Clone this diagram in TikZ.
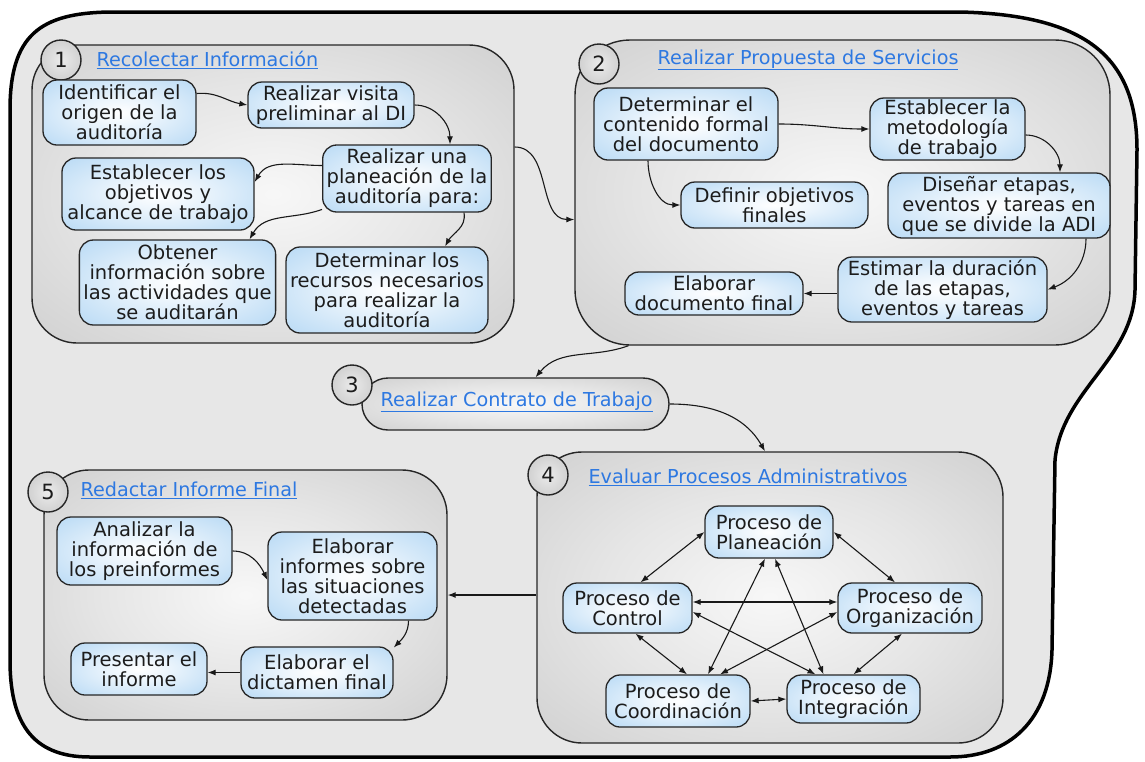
\documentclass[tikz,border=0pt]{standalone}
\usepackage{fontspec}
\setmainfont{DejaVu Sans}
\usetikzlibrary{arrows.meta,positioning}
\definecolor{azulnodo}{RGB}{166,208,242}
\definecolor{grisgrupo}{RGB}{192,192,192}
\definecolor{fondo}{RGB}{231,231,231}
\definecolor{enlace}{RGB}{45,120,225}
\definecolor{texto}{RGB}{28,28,28}
\pgfdeclareradialshading{nodoshade}{\pgfpoint{0bp}{0bp}}{color(0bp)=(white); color(10bp)=(azulnodo!20!white); color(45bp)=(azulnodo); color(100bp)=(azulnodo)}
\pgfdeclareradialshading{gruposhade}{\pgfpoint{0bp}{0bp}}{color(0bp)=(white!97!black); color(18bp)=(white!90!black); color(50bp)=(grisgrupo); color(100bp)=(grisgrupo)}
\pgfdeclareradialshading{numeroshade}{\pgfpoint{0bp}{0bp}}{color(0bp)=(white!92!black); color(50bp)=(white!72!black); color(100bp)=(white!72!black)}

\begin{document}
\begin{tikzpicture}[x=1pt,y=-1pt,>={Latex[length=8pt,width=6pt]},line join=round,
  font=\fontsize{19.5}{20}\selectfont,
  proceso/.style={draw=black!85,line width=1.3pt,rounded corners=14pt,shade,shading=nodoshade,align=center,inner xsep=4pt,inner ysep=1pt,text=texto},
  grupo/.style={draw=black!85,line width=1.4pt,rounded corners=45pt,shade,shading=gruposhade},
  numero/.style={circle,draw=black!85,line width=1.4pt,shade,shading=numeroshade,minimum size=40pt,inner sep=0pt,font=\fontsize{21}{21}\selectfont,text=texto},
  titulo/.style={anchor=west,text=enlace,font=\fontsize{19.2}{19.2}\selectfont},
  flecha/.style={->,line width=1.1pt,black!90}]
\useasboundingbox (0,0) rectangle (1145,761);
\draw[line width=3.5pt,fill=fondo] (10,110) .. controls (10,35) and (40,13) .. (110,12) -- (960,12) .. controls (1090,15) and (1137,60) .. (1137,150) -- (1135,290) .. controls (1133,360) and (1062,390) .. (1055,460) -- (1052,650) .. controls (1050,720) and (1010,757) .. (950,757) -- (90,757) .. controls (30,757) and (10,720) .. (10,660) -- cycle;

\node[grupo, minimum width=482, minimum height=298] (g_1) at (273,194) {};
\node[grupo, minimum width=535, minimum height=305, rounded corners=55pt] (g_2) at (842.5,192.5) {};
\node[grupo, minimum width=307, minimum height=52, rounded corners=26pt] (g_3) at (515.5,404) {};
\node[grupo, minimum width=466, minimum height=291] (g_4) at (770,597.5) {};
\node[grupo, minimum width=403, minimum height=250] (g_5) at (245.5,595) {};

\node[numero] (n_1) at (61,60) {1};
\node[numero] (n_2) at (599,64) {2};
\node[numero] (n_3) at (352,385) {3};
\node[numero] (n_4) at (548,475) {4};
\node[numero] (n_5) at (48,492) {5};
\node[titulo] (t_1) at (93,60) {\underline{Recolectar Información}};
\node[titulo] (t_2) at (654,60) {\underline{Realizar Propuesta de Servicios}};
\node[titulo] (t_3) at (377,402) {\underline{Realizar Contrato de Trabajo}};
\node[titulo] (t_4) at (585,477) {\underline{Evaluar Procesos Administrativos}};
\node[titulo] (t_5) at (77,490) {\underline{Redactar Informe Final}};

\node[proceso, minimum width=153, minimum height=65] (a_1) at (119.5,112.5) {Identificar el\\origen de la\\auditoría};
\node[proceso, minimum width=166, minimum height=46] (a_2) at (331,105) {Realizar visita\\preliminar al DI};
\node[proceso, minimum width=168, minimum height=67] (a_3) at (407,178.5) {Realizar una\\planeación de la\\auditoría para:};
\node[proceso, minimum width=192, minimum height=72] (a_4) at (158,194) {Establecer los\\objetivos y\\alcance de trabajo};
\node[proceso, minimum width=195, minimum height=85] (a_5) at (177.5,282.5) {Obtener\\información sobre\\las actividades que\\se auditarán};
\node[proceso, minimum width=200, minimum height=86] (a_6) at (387,290) {Determinar los\\recursos necesarios\\para realizar la\\auditoría};

\node[proceso, minimum width=184, minimum height=72] (b_1) at (686,124) {Determinar el\\contenido formal\\del documento};
\node[proceso, minimum width=155, minimum height=62] (b_2) at (947.5,129) {Establecer la\\metodología\\de trabajo};
\node[proceso, minimum width=187, minimum height=46] (b_3) at (774.5,205) {Definir objetivos\\finales};
\node[proceso, minimum width=222, minimum height=65] (b_4) at (999,205.5) {Diseñar etapas,\\eventos y tareas en\\que se divide la ADI};
\node[proceso, minimum width=209, minimum height=65] (b_5) at (942.5,289.5) {Estimar la duración\\de las etapas,\\eventos y tareas};
\node[proceso, minimum width=178, minimum height=43] (b_6) at (714,293.5) {Elaborar\\documento final};

\node[proceso, minimum width=128, minimum height=52] (p_1) at (769,532) {Proceso de\\Planeación};
\node[proceso, minimum width=129, minimum height=50] (p_2) at (627.5,608) {Proceso de\\Control};
\node[proceso, minimum width=144, minimum height=50] (p_3) at (910,608) {Proceso de\\Organización};
\node[proceso, minimum width=144, minimum height=52] (p_4) at (678,701) {Proceso de\\Coordinación};
\node[proceso, minimum width=133, minimum height=48] (p_5) at (853.5,699) {Proceso de\\Integración};

\node[proceso, minimum width=175, minimum height=68] (r_1) at (144.5,551) {Analizar la\\información de\\los preinformes};
\node[proceso, minimum width=169, minimum height=88] (r_2) at (352.5,576) {Elaborar\\informes sobre\\las situaciones\\detectadas};
\node[proceso, minimum width=136, minimum height=52] (r_3) at (139,669) {Presentar el\\informe};
\node[proceso, minimum width=152, minimum height=51] (r_4) at (317,672.5) {Elaborar el\\dictamen final};

\path[flecha] ([yshift=19pt]a_1.east) edge[out=5,in=170] (a_2.west);
\path[flecha] (a_2.east) edge[out=0,in=90] ([xshift=43pt]a_3.north);
\path[flecha] ([yshift=13pt]a_3.west) edge[out=180,in=60] ([yshift=12pt]a_4.east);
\path[flecha] (a_3.200) edge[out=200,in=60] ([xshift=72pt]a_5.north);
\path[flecha] ([xshift=57pt]a_3.south) edge[out=-80,in=60] ([xshift=58pt]a_6.north);
\path[flecha] ([yshift=47pt]g_1.east) edge[out=0,in=180] ([yshift=-27pt]g_2.west);

\path[flecha] (b_1.east) edge[out=0,in=180] (b_2.west);
\path[flecha] ([xshift=-38pt]b_1.south) edge[out=-90,in=180] (b_3.west);
\path[flecha] ([yshift=-6pt]b_2.east) edge[out=0,in=90] ([xshift=61pt]b_4.north);
\path[flecha] ([xshift=87pt]b_4.south) edge[out=-90,in=20] (b_5.east);
\path[flecha] (b_5.west |- b_6.east) edge (b_6.east);

\path[flecha] ([xshift=-214pt]g_2.south) edge[out=200,in=50] ([xshift=20pt]g_3.north);
\path[flecha] (g_3.east) edge[out=0,in=120] ([xshift=-5pt]g_4.north);
\path[flecha] (g_4.west |- g_5.east) edge (g_5.east);

\path[flecha,<->] (p_1.west) edge ([xshift=13pt]p_2.north);
\path[flecha,<->] (p_1.east) edge ([xshift=-15pt]p_3.north);
\path[flecha,<->] ([yshift=6pt]p_2.east) edge ([yshift=6pt]p_3.west);
\path[flecha,<->] ([yshift=-4pt]p_2.east) edge ([xshift=-38pt]p_5.north);
\path[flecha,<->] ([yshift=-4pt]p_3.west) edge ([xshift=42pt]p_4.north);
\path[flecha,<->] ([xshift=-4pt]p_1.south) edge ([xshift=30pt]p_4.north);
\path[flecha,<->] ([xshift=6pt]p_1.south) edge ([xshift=-30pt]p_5.north);
\path[flecha,<->] ([xshift=8pt]p_2.south) edge ([xshift=9pt]p_4.north);
\path[flecha,<->] ([xshift=-8pt]p_3.south) edge (p_5.north);
\path[flecha,<->] (p_4.east) edge (p_5.west);

\path[flecha] (r_1.east) edge[out=0,in=115] ([yshift=-4pt]r_2.west);
\path[flecha] ([xshift=56pt]r_2.south) edge[out=-90,in=45] (r_4.18);
\path[flecha] (r_4.west) edge (r_3.east |- r_4.west);
\end{tikzpicture}
\end{document}
